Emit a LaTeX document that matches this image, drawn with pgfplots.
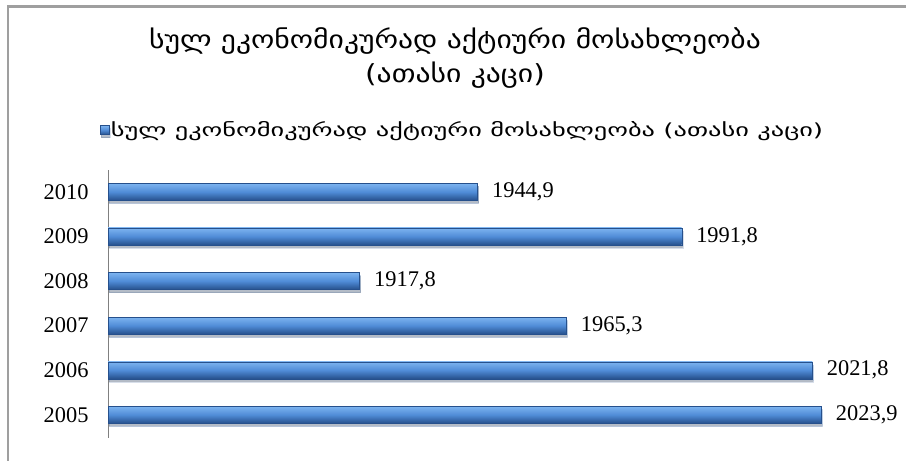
\documentclass[border=0pt]{standalone}
\usepackage{fontspec}
\setmainfont{Liberation Serif}
\newfontfamily\geotitle[FakeStretch=1.19]{DejaVu Sans}
\newfontfamily\geoleg[FakeStretch=1.47]{DejaVu Sans}
\usepackage{pgfplots}
\pgfplotsset{compat=1.18}
\usetikzlibrary{shadows}
\definecolor{barTop}{RGB}{125,180,240}
\definecolor{barMid}{RGB}{80,140,215}
\definecolor{barBot}{RGB}{38,80,140}
\begin{document}
\begin{tikzpicture}[x=1bp,y=1bp]
\useasboundingbox (0,0) rectangle (906,461);
\draw[gray!75, line width=2.5bp] (8,0) -- (8,454.5) -- (906,454.5);
\node[font=\geotitle\fontsize{25}{34}\selectfont, align=center] at (455,403) {სულ ეკონომიკურად აქტიური მოსახლეობა\\(ათასი კაცი)};
\begin{axis}[
  at={(108bp,23bp)}, anchor=south west,
  scale only axis, width=740bp, height=268bp,
  xmin=1860, xmax=2030,
  ymin=-0.52, ymax=5.49,
  axis x line=none,
  axis y line*=left,
  y axis line style={draw=gray, line width=0.8bp, -},
  ytick={0,1,2,3,4,5},
  yticklabels={2005,2006,2007,2008,2009,2010},
  major tick length=0pt,
  yticklabel style={font=\fontsize{22.5}{23}\selectfont, xshift=-16bp},
  xbar, bar width=17bp, bar shift=0pt,
  nodes near coords,
  nodes near coords style={font=\fontsize{22.5}{23}\selectfont, anchor=west, xshift=11bp,
    /pgf/number format/.cd, use comma, fixed, fixed zerofill, precision=1, 1000 sep={}, assume math mode=true},
  legend style={at={(rel axis cs:-0.015,1.149)}, anchor=west, draw=none, fill=none,
    font=\geoleg\fontsize{18}{19}\selectfont},
  legend image code/.code={\shade[top color=barTop, bottom color=barBot, middle color=barMid] (0bp,-4.5bp) rectangle (8.5bp,4.5bp);},
  barstyle/.style={draw=barBot, line width=0.4bp, top color=barTop, bottom color=barBot, middle color=barMid,
    drop shadow={shadow xshift=1bp, shadow yshift=-3bp, fill=black, opacity=0.18}},
]
\addplot[barstyle] coordinates {(2023.9,0)};
\addlegendentry{სულ ეკონომიკურად აქტიური მოსახლეობა (ათასი კაცი)}
\addplot[barstyle, forget plot] coordinates {(2021.8,1)};
\addplot[barstyle, forget plot] coordinates {(1965.3,2)};
\addplot[barstyle, forget plot] coordinates {(1917.8,3)};
\addplot[barstyle, forget plot] coordinates {(1991.8,4)};
\addplot[barstyle, forget plot] coordinates {(1944.9,5)};
\end{axis}
\end{tikzpicture}
\end{document}
